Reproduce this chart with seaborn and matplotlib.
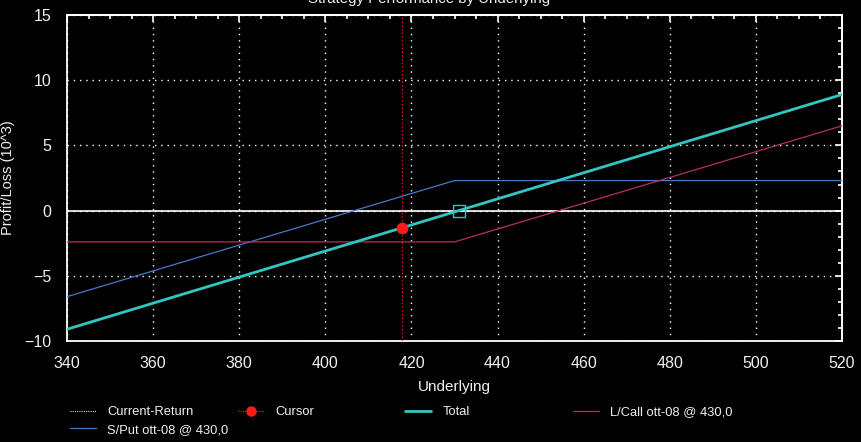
import numpy as np
import pandas as pd
import matplotlib
matplotlib.use("Agg")
import matplotlib.pyplot as plt
from matplotlib.lines import Line2D
from matplotlib.ticker import MultipleLocator, NullFormatter
import seaborn as sns

# values (P/L in thousands)
underlying = [340, 430, 520]
total = [-9.1, -0.1, 8.9]
lcall = [-2.4, -2.4, 6.5]
sput = [-6.6, 2.3, 2.3]
cursor_x = 417.7
cursor_y = -1.3
breakeven_x = 431.0
breakeven_y = 0.0

TOTAL_C = "#33c6c0"
CALL_C = "#b8305e"
PUT_C = "#4a78cc"
CURSOR_C = "#ff1a1a"
FG = "#f0f0f0"

sns.set_style("dark")
plt.rcParams["font.family"] = ["Liberation Sans", "DejaVu Sans"]

df = pd.DataFrame({"underlying": underlying, "Total": total,
                   "L/Call ott-08 @ 430,0": lcall, "S/Put ott-08 @ 430,0": sput})

fig = plt.figure(figsize=(8.61, 4.42), dpi=100, facecolor="black")
ax = fig.add_axes([67 / 861, 1 - 341 / 442, 775 / 861, 326 / 442])
ax.set_facecolor("black")

ax.grid(True, which="major", color="white", linestyle=(0, (1, 3.5)), linewidth=1.0)
ax.axhline(0, color="white", linewidth=1.2, zorder=2)
ax.axvline(cursor_x, color=CURSOR_C, linestyle=(0, (1, 2)), linewidth=0.9, zorder=3)

sns.lineplot(data=df, x="underlying", y="S/Put ott-08 @ 430,0", ax=ax, color=PUT_C, linewidth=0.9, zorder=4)
sns.lineplot(data=df, x="underlying", y="L/Call ott-08 @ 430,0", ax=ax, color=CALL_C, linewidth=0.9, zorder=4)
sns.lineplot(data=df, x="underlying", y="Total", ax=ax, color=TOTAL_C, linewidth=2.0, zorder=5)
ax.plot([breakeven_x], [breakeven_y], marker="s", markersize=8, markerfacecolor="none",
        markeredgecolor=TOTAL_C, markeredgewidth=1.0, zorder=6)
ax.plot([cursor_x], [cursor_y], marker="o", markersize=7.5, color=CURSOR_C, zorder=7)

ax.set_xlim(340, 520)
ax.set_ylim(-10, 15)
ax.xaxis.set_major_locator(MultipleLocator(20))
ax.xaxis.set_minor_locator(MultipleLocator(5))
ax.yaxis.set_major_locator(MultipleLocator(5))
ax.yaxis.set_minor_locator(MultipleLocator(1))
ax.tick_params(which="major", direction="inout", length=9, width=1.2, color="white",
               labelcolor=FG, labelsize=11.5)
ax.tick_params(which="minor", direction="inout", length=5, width=1.2, color="white")
ax.tick_params(axis="x", which="major", pad=6)
ax.tick_params(axis="y", which="major", pad=7)
for s in ax.spines.values():
    s.set_color("white")
    s.set_linewidth(1.3)

# inward-only ticks on the top and right frame
top = ax.secondary_xaxis("top")
right = ax.secondary_yaxis("right")
for sec, maj, mnr in [(top.xaxis, 20, 5), (right.yaxis, 5, 1)]:
    sec.set_major_locator(MultipleLocator(maj))
    sec.set_minor_locator(MultipleLocator(mnr))
    sec.set_major_formatter(NullFormatter())
for sec in (top, right):
    sec.tick_params(which="major", direction="in", length=5, width=1.2, color="white")
    sec.tick_params(which="minor", direction="in", length=3, width=1.2, color="white")
    for s in sec.spines.values():
        s.set_color("white")
        s.set_linewidth(1.3)

ax.set_xlabel("Underlying", color=FG, fontsize=11, labelpad=7)
ax.set_ylabel("Profit/Loss (10^3)", color=FG, fontsize=10.5)
ax.yaxis.set_label_coords(-52 / 775, 0.5)

fig.text(429.5 / 861, 1 - 3.5 / 442, "Strategy Performance by Underlying", color=FG,
         fontsize=10.8, ha="center", va="baseline")

# legend laid out in fixed-width columns like the original
h_cur = Line2D([], [], color="#d8d8d8", linestyle=(0, (1, 1)), linewidth=0.8)
h_cursor = Line2D([], [], color=CURSOR_C, linestyle=(0, (1, 1)), linewidth=0.8,
                  marker="o", markersize=6.5)
h_total = Line2D([], [], color=TOTAL_C, linewidth=2.0)
h_call = Line2D([], [], color=CALL_C, linewidth=0.9)
h_put = Line2D([], [], color=PUT_C, linewidth=0.9)

columns = [
    (70, [h_cur, h_put], ["Current-Return", "S/Put ott-08 @ 430,0"]),
    (238, [h_cursor], ["Cursor"]),
    (405, [h_total], ["Total"]),
    (573, [h_call], ["L/Call ott-08 @ 430,0"]),
]
for xpix, hs, labs in columns:
    leg = fig.legend(hs, labs, loc="upper left", bbox_to_anchor=(xpix / 861, 1 - 406 / 442),
                     frameon=False, fontsize=9.3, handlelength=2.0, handletextpad=0.9,
                     borderpad=0, borderaxespad=0, labelspacing=0.45, labelcolor=FG)

fig.savefig("out.png", dpi=100, facecolor="black")
